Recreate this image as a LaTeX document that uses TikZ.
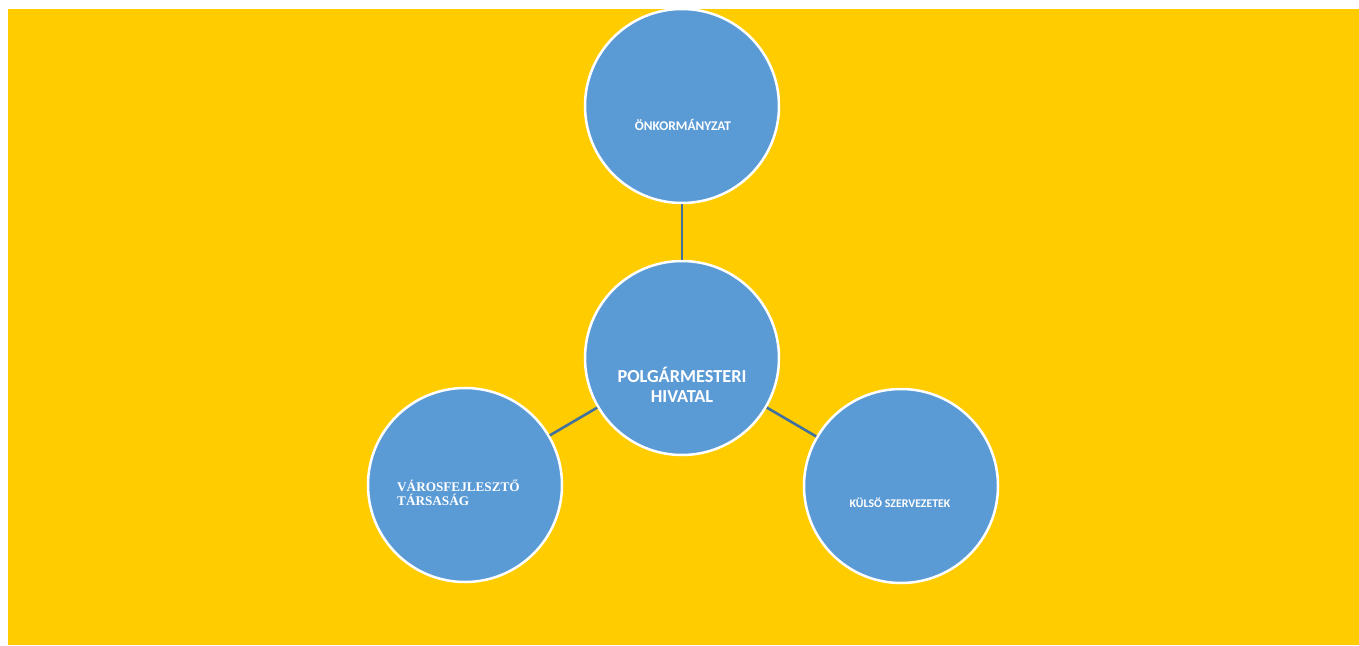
\documentclass[tikz,border=0pt]{standalone}
\usepackage{fontspec}
\setmainfont{Carlito}
\newfontfamily\timesf{Liberation Serif}
\definecolor{bgyellow}{HTML}{FFCC00}
\definecolor{circblue}{HTML}{5B9BD5}
\definecolor{linkblue}{HTML}{41719C}
\begin{document}
\begin{tikzpicture}[x=1pt,y=-1pt,
  bubble/.style={circle,fill=circblue,draw=white,line width=2.5pt,minimum size=194pt,inner sep=0pt},
  link/.style={draw=linkblue,line width=2.6pt},
  lbl/.style={text=white,font=\bfseries,inner sep=0pt,align=center}]
\useasboundingbox (0,0) rectangle (1359,645);
\fill[bgyellow] (8,9) rectangle (1359,645);
\node[bubble] (top) at (682,106) {};
\node[bubble] (mid) at (682,358) {};
\node[bubble] (left) at (465,485) {};
\node[bubble] (right) at (901,486) {};
\draw[link] (top) -- (mid);
\draw[link] (mid) -- (left);
\draw[link] (mid) -- (right);
\node[lbl,font=\fontsize{13.3}{15}\selectfont\bfseries] (ttop) at (683,125) {ÖNKORMÁNYZAT};
\node[lbl,font=\fontsize{18.3}{20}\selectfont\bfseries] (tmid) at (682,385) {POLGÁRMESTERI\\HIVATAL};
\node[lbl,align=left,anchor=west,font=\timesf\fontsize{13.2}{14.5}\selectfont\bfseries] (tleft) at (397,493) {VÁROSFEJLESZTŐ\\TÁRSASÁG};
\node[lbl,font=\fontsize{11.8}{13}\selectfont\bfseries] (tright) at (900,503) {KÜLSÖ SZERVEZETEK};
\end{tikzpicture}
\end{document}
